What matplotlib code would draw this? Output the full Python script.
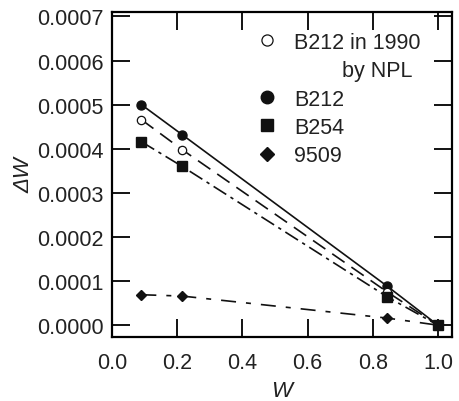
import matplotlib
matplotlib.use('Agg')
import matplotlib.pyplot as plt
from matplotlib.lines import Line2D
from matplotlib.ticker import FormatStrFormatter, MultipleLocator

plt.rcParams['font.family'] = ['Liberation Sans', 'DejaVu Sans']

w = [0.09, 0.215, 0.845, 1.0]
dw_npl = [0.000466, 0.000398, 0.000075, 0.0]
dw_b212 = [0.000500, 0.000432, 0.000088, 0.0]
dw_b254 = [0.000416, 0.000360, 0.000064, 0.0]
dw_9509 = [0.000069, 0.000066, 0.000016, 0.0]

INK = '#111111'

fig = plt.figure(figsize=(4.6, 4.02), dpi=100)
ax = fig.add_axes([0.2435, 0.159, 0.739, 0.8087])

ax.plot(w, dw_b212, color=INK, lw=1.2, ls='-', marker='o', ms=6.5, mfc=INK, mec=INK)
ax.plot(w, dw_npl, color=INK, lw=1.2, ls=(0, (9, 5)), marker='o', ms=6, mfc='white', mec=INK, mew=0.9)
ax.plot(w, dw_b254, color=INK, lw=1.2, ls=(0, (9, 3, 2, 3)), marker='s', ms=7, mfc=INK, mec=INK)
ax.plot(w, dw_9509, color=INK, lw=1.2, ls=(0, (9, 6, 3, 6)), marker='D', ms=5, mfc=INK, mec=INK)

ax.set_xlim(0, 1.043)
ax.set_ylim(-0.000027, 0.000710)
ax.xaxis.set_major_locator(MultipleLocator(0.2))
ax.yaxis.set_major_locator(MultipleLocator(0.0001))
ax.xaxis.set_major_formatter(FormatStrFormatter('%.1f'))
ax.yaxis.set_major_formatter(FormatStrFormatter('%.4f'))
ax.tick_params(direction='in', length=13, width=1.3, top=True, right=True,
               labelsize=15.5, labelcolor='#222222', pad=6)
ax.tick_params(axis='x', pad=11)
for s in ax.spines.values():
    s.set_linewidth(1.6)

ax.set_xlabel('W', fontsize=16, style='italic', color='#222222', labelpad=5)
ax.set_ylabel('ΔW', fontsize=16, style='italic', color='#222222', labelpad=2)

handles = [
    Line2D([], [], ls='none', marker='o', ms=8, mfc='white', mec=INK, mew=0.9),
    Line2D([], [], ls='none', marker='none'),
    Line2D([], [], ls='none', marker='o', ms=9, mfc=INK, mec=INK),
    Line2D([], [], ls='none', marker='s', ms=9, mfc=INK, mec=INK),
    Line2D([], [], ls='none', marker='D', ms=7, mfc=INK, mec=INK),
]
labels = ['B212 in 1990', '        by NPL', 'B212', 'B254', '9509']
leg = ax.legend(handles, labels, loc='upper left', bbox_to_anchor=(0.38, 0.985),
                frameon=False, fontsize=15.5, handlelength=1.0, handletextpad=0.75,
                labelspacing=0.34, borderpad=0.2)
for t in leg.get_texts():
    t.set_color('#222222')

fig.savefig('out.png', dpi=100)
